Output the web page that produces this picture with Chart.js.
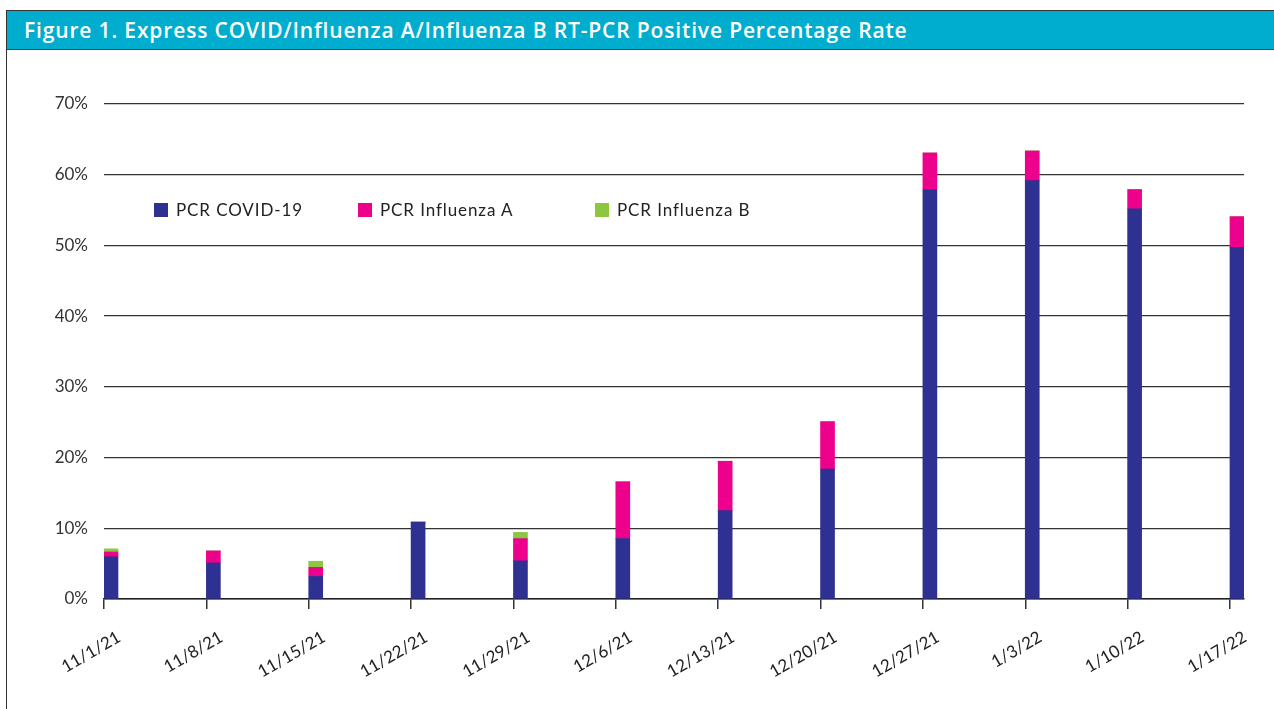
<!DOCTYPE html>
<html>
<head>
<meta charset="utf-8">
<script src="https://cdn.jsdelivr.net/npm/chart.js@4/dist/chart.umd.min.js"></script>
<style>
    body { margin: 0; background: #fff; width: 1274px; height: 709px; overflow: hidden; position: relative; }
    #frame { position: absolute; left: 6px; top: 10px; width: 1300px; height: 720px; border-left: 1.5px solid #333; border-top: 1.5px solid #333; }
    #title { position: absolute; left: 0; top: 0; right: 0; height: 38px; background: #00adce; border-bottom: 1.5px solid #444;
             color: #fff; font: 600 21px "Open Sans", sans-serif; letter-spacing: 0.85px; line-height: 38px; padding-left: 17px; }
    #wrap { position: absolute; left: 0; top: 0; width: 1274px; height: 709px; }
    #legend { position: absolute; top: 199px; left: 0; width: 900px; height: 22px; font: 17px Lato, sans-serif; color: #222; letter-spacing: 0.9px; }
    #legend .item { position: absolute; top: 0; display: flex; align-items: center; }
    #legend .box { width: 14px; height: 14px; margin-right: 8px; }
</style>
</head>
<body>
<div id="frame"><div id="title">Figure 1. Express COVID/Influenza A/Influenza B RT-PCR Positive Percentage Rate</div></div>
<div id="wrap"><canvas id="chartCanvas"></canvas></div>
<div id="legend"></div>
<script>
// week start dates (x axis)
const weeks = ['11/1/21', '11/8/21', '11/15/21', '11/22/21', '11/29/21', '12/6/21',
               '12/13/21', '12/20/21', '12/27/21', '1/3/22', '1/10/22', '1/17/22'];

// positive percentage per test, stacked
const covid = [5.97, 5.1, 3.2, 10.87, 5.39, 8.55, 12.49, 18.38, 57.85, 59.16, 55.19, 49.72];
const fluA  = [0.68, 1.7, 1.27, 0, 3.15, 8.03, 6.99, 6.7, 5.23, 4.2, 2.71, 4.35];
const fluB  = [0.44, 0, 0.87, 0, 0.88, 0, 0, 0, 0, 0, 0, 0];

const yTicks = [0, 10, 20, 30, 40, 50, 60, 70];

const seriesNames = ['PCR COVID-19', 'PCR Influenza A', 'PCR Influenza B'];
const seriesColors = ['#2e3192', '#ec008c', '#8dc63f'];
const legendLeft = [154, 358, 595];

const toPoints = arr => arr.map((v, i) => ({ x: i, y: v }));

// empty spacer stack so the real bars sit to the right of each tick
const spacer = {
    label: '',
    data: toPoints(weeks.map(() => 0)),
    stack: 'spacer',
    backgroundColor: 'rgba(0,0,0,0)',
    barThickness: 14,
};

const datasets = [spacer].concat([covid, fluA, fluB].map((arr, i) => ({
    label: seriesNames[i],
    data: toPoints(arr),
    stack: 'pcr',
    backgroundColor: seriesColors[i],
    barThickness: 14,
})));

const chart = new Chart(document.getElementById('chartCanvas'), {
    type: 'bar',
    data: { datasets: datasets },
    options: {
        responsive: true,
        maintainAspectRatio: false,
        animation: false,
        layout: { padding: { top: 104, right: 30, left: 0, bottom: 0 } },
        plugins: { legend: { display: false }, tooltip: { enabled: false } },
        scales: {
            x: {
                type: 'linear',
                stacked: true,
                offset: false,
                min: 0,
                max: weeks.length - 1 + 0.137,
                afterFit: s => { s.height = 110; },
                grid: { offset: false, drawOnChartArea: false, drawTicks: true, tickLength: 10, color: '#333', lineWidth: 1.5 },
                border: { display: true, color: '#222', width: 1.5 },
                ticks: {
                    stepSize: 1,
                    includeBounds: false,
                    autoSkip: false,
                    minRotation: 30,
                    maxRotation: 30,
                    labelOffset: 15,
                    padding: 18,
                    color: '#222',
                    font: { family: 'Lato', size: 17 },
                    callback: v => weeks[v],
                },
            },
            y: {
                stacked: true,
                min: yTicks[0],
                max: yTicks[yTicks.length - 1],
                afterFit: s => { s.width = 104; },
                afterBuildTicks: s => { s.ticks = yTicks.map(v => ({ value: v })); },
                grid: { color: '#333', lineWidth: 1.3, drawTicks: false },
                border: { display: false },
                ticks: {
                    padding: 16,
                    color: '#333',
                    font: { family: 'Lato', size: 17 },
                    callback: v => v + '%',
                },
            },
        },
    },
});

// html legend from the real series
const legendDiv = document.getElementById('legend');
seriesNames.forEach((name, i) => {
    const item = document.createElement('div');
    item.className = 'item';
    item.style.left = legendLeft[i] + 'px';
    item.innerHTML = '<span class="box" style="background:' + seriesColors[i] + '"></span>' + name;
    legendDiv.appendChild(item);
});
</script>
</body>
</html>
